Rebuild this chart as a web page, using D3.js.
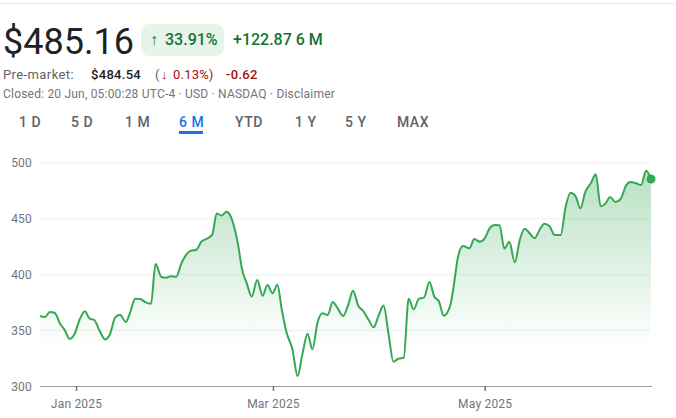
<!DOCTYPE html>
<html><head><meta charset="utf-8">
<script src="https://cdn.jsdelivr.net/npm/d3@7/dist/d3.min.js"></script>
<style>html,body{margin:0;padding:0;background:#fff}svg{display:block}text{font-family:Roboto,sans-serif}</style>
</head><body><svg id="c" width="676" height="418"></svg>
<script>
const sessions=[0,1,2,3,4.1,5,6,7,8,9.1,10,11,12,13.2,14.2,15.2,16.2,17.4,18.2,19.3,20.3,21.3,22.5,23.4,24.6,25.5,26.5,27.6,28.6,29.6,30.5,31.7,32.7,33.8,34.9,35.8,36.8,37.8,38.5,39.5,40.2,40.9,41.9,42.9,44,45.1,46.1,47.1,48.1,49,50,51.1,52.2,53.2,54.2,55.2,56.2,57.2,58.3,59.3,60.3,61.4,62.5,63.4,64.5,65.5,66.6,67.6,68.6,69.6,70.6,71.6,72.6,73.7,74.7,75.7,76.8,77.8,78.9,79.9,80.8,81.8,82.8,83.3,84,84.7,85.7,87,88,89.1,90.1,91.1,92.1,93.1,94.1,95.1,96.2,97.2,98.2,99.2,100.2,101.2,102.2,103.2,104.3,105.5,106.5,107.5,108.5,109.5,110.5,111.6,112.6,113.6,114.6,115.5,116.6,117.6,118.8,119.6,120.8,121.8,122.8,123.8];
const closes=[362.6,361.7,366.2,365.3,355.5,350.1,342.1,346.5,359,366.8,360.5,359,350.1,341.7,346.5,361.1,363.8,357.2,365,378.1,377.8,375.1,373.6,409.1,397.5,396.9,398.1,397.8,409.1,417.2,420.8,421.9,429.1,431.8,435.4,454.4,452.4,455.9,453,439.5,424.6,405.2,391.8,379.9,394.8,380.8,390.3,382.9,390.6,368,347.1,333.7,308.9,329.2,346.8,332.8,356.1,365,363.5,375.1,369.5,362.6,373.3,385.3,371.6,367.1,359,352.5,362.9,371.9,347.1,321.8,324.4,325.3,378.1,368.6,378.1,379,393,379.9,376,362.9,368,375.4,394.8,415.7,425.2,423.1,431.5,429.1,432.1,441,444,443.7,422.8,429.1,410.6,430.6,440.7,436.6,432.1,439.5,445.2,443.1,435.1,435.1,460.4,472.9,469.9,458.9,473.8,481.3,489.3,460.7,463.4,469.1,464.6,467,479.8,482.5,481.3,479.8,492.6,485.16];
const yTicks=[300,350,400,450,500];
const xTickSessions=[7.3,47.2,90.1];
const xTickLabels=["Jan 2025","Mar 2025","May 2025"];
const ranges=["1 D","5 D","1 M","6 M","YTD","1 Y","5 Y","MAX"];
const rangeLeft=[19,71,125,179,235,295,345,397];

const svg=d3.select("#c");
const x=d3.scaleLinear().domain([0,124]).range([40,652]);
const y=d3.scaleLinear().domain([300,500]).range([386,162.4]);
const pts=sessions.map((s,i)=>[s,closes[i]]);

const T=(px,py,t,size,fill,weight,ls)=>svg.append("text").attr("x",px).attr("y",py).text(t)
  .attr("font-size",size).attr("fill",fill).attr("font-weight",weight||400)
  .attr("letter-spacing",ls||0);

// header
svg.append("rect").attr("x",0).attr("y",3).attr("width",676).attr("height",1).attr("fill","#e8eaed");
T(3,54,"$485.16",36,"#202124",400);
svg.append("rect").attr("x",141).attr("y",24).attr("width",83).attr("height",32).attr("rx",8).attr("fill","#e6f4ea");
T(150,45,"↑",16,"#137333",500);
T(165,45,"33.91%",16,"#137333",500);
T(233,45,"+122.87 6 M",16,"#137333",500);
T(3,79,"Pre-market:",13,"#5f6368",400,0.4);
T(91,79,"$484.54",13,"#202124",500,0.3);
T(155,79,"(",13,"#5f6368",400);
T(161,79,"↓",13,"#a50e0e",500);
T(173,79,"0.13%)",13,"#a50e0e",400,0.2);
T(226,79,"-0.62",13,"#a50e0e",500,0.3);
T(3,98,"Closed: 20 Jun, 05:00:28 UTC-4 · USD · NASDAQ · Disclaimer",12,"#70757a",400,0.2);

// range tabs
ranges.forEach((r,i)=>T(rangeLeft[i],127,r,14,r==="6 M"?"#1a73e8":"#5f6368",500,0.5));
svg.append("rect").attr("x",179).attr("y",131).attr("width",24).attr("height",3).attr("fill","#1a73e8");

// gradient
const grad=svg.append("defs").append("linearGradient").attr("id","g").attr("gradientUnits","userSpaceOnUse")
  .attr("x1",0).attr("x2",0).attr("y1",y(490)).attr("y2",y(335));
grad.append("stop").attr("offset",0).attr("stop-color","#34a853").attr("stop-opacity",0.34);
grad.append("stop").attr("offset",1).attr("stop-color","#34a853").attr("stop-opacity",0);

// grid
svg.append("g").selectAll("line").data(yTicks.slice(1)).join("line")
  .attr("x1",40).attr("x2",651).attr("y1",d=>y(d)+.5).attr("y2",d=>y(d)+.5)
  .attr("stroke","#eeeeee").attr("stroke-width",1);

const curve=d3.curveMonotoneX;
svg.append("path").datum(pts).attr("fill","url(#g)")
  .attr("d",d3.area().x(d=>x(d[0])).y0(y(300)).y1(d=>y(d[1])).curve(curve));

// axes
const ya=d3.axisLeft(y).tickValues(yTicks).tickSize(0).tickPadding(0);
const gy=svg.append("g").attr("transform","translate(32,0)").call(ya);
gy.select(".domain").remove();
gy.selectAll("text").attr("font-size",12).attr("fill","#70757a").attr("letter-spacing",0.2).attr("font-family","Roboto,sans-serif").attr("dy","0.35em");

const xa=d3.axisBottom(x).tickValues(xTickSessions).tickFormat((d,i)=>xTickLabels[i]).tickSize(5).tickPadding(8);
const gx=svg.append("g").attr("transform","translate(0,386)").call(xa);
gx.select(".domain").attr("stroke","#9aa0a6").attr("stroke-width",1).attr("d","M40,0.5H652");
gx.selectAll("line").attr("stroke","#70757a").attr("stroke-width",1.5);
gx.selectAll("text").attr("font-size",12).attr("fill","#70757a").attr("letter-spacing",0.2).attr("font-family","Roboto,sans-serif");

// line + dot
svg.append("path").datum(pts).attr("fill","none").attr("stroke","#34a853").attr("stroke-width",2)
  .attr("stroke-linejoin","round").attr("d",d3.line().x(d=>x(d[0])).y(d=>y(d[1])).curve(curve));
svg.append("circle").attr("cx",x(sessions[sessions.length-1])).attr("cy",y(closes[closes.length-1])).attr("r",4.5).attr("fill","#34a853");
</script></body></html>
